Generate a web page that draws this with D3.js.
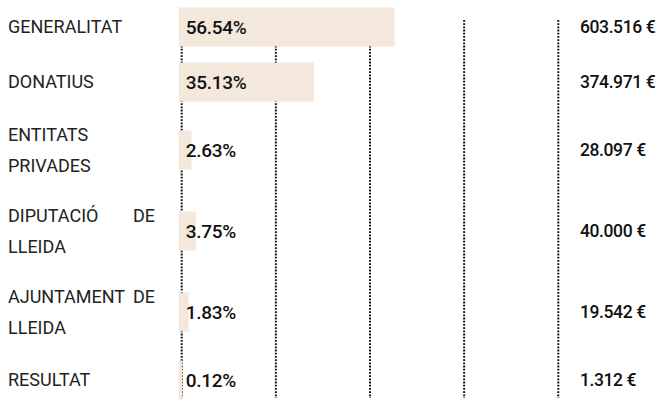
<!DOCTYPE html>
<html>
<head>
<meta charset="utf-8">
<script src="https://cdn.jsdelivr.net/npm/d3@7"></script>
<style>
  body { margin: 0; background: #fff; }
  svg text { font-family: Roboto, "Noto Sans", sans-serif; }
</style>
</head>
<body>
<svg class="Finances" width="661" height="401"></svg>
<script>
// data
var categories = ["GENERALITAT", "DONATIUS", "ENTITATS PRIVADES", "DIPUTACIÓ DE LLEIDA", "AJUNTAMENT DE LLEIDA", "RESULTAT"];
var percents = [56.54, 35.13, 2.63, 3.75, 1.83, 0.12];
var amounts = ["603.516 €", "374.971 €", "28.097 €", "40.000 €", "19.542 €", "1.312 €"];
var gridTicks = [0, 25, 50, 75, 100];

var meta = {};
meta['labelWidth'] = 147;
meta['lineHeight'] = 31;
meta['barHeight'] = 39;
meta['labelSize'] = 18;

var svg = d3.select(".Finances");

const xScale = d3.scaleLinear()
    .domain([0, 100])
    .range([181.7, 558.3]);

// grid lines first, bars go over them
svg.append('g')
    .attr('class', 'grid')
    .selectAll('line')
    .data(gridTicks)
    .enter()
    .append('line')
    .attr('x1', d => xScale(d))
    .attr('x2', d => xScale(d))
    .attr('y1', 20)
    .attr('y2', 398)
    .attr('stroke', '#111')
    .attr('stroke-width', 2)
    .attr('stroke-dasharray', '1.8,1.4');

// labels: wrap + justify inside the left column
var labelG = svg.append('g').attr('class', 'labels');
var measure = labelG.append('text').attr('font-size', meta['labelSize']);

function textWidth(s) {
    measure.text(s);
    return measure.node().getComputedTextLength();
}

function wrap(label) {
    let words = label.split(' ');
    let lines = [];
    let cur = [];
    words.forEach(w => {
        let test = cur.concat([w]).join(' ');
        if (cur.length && textWidth(test) > meta['labelWidth']) {
            lines.push(cur);
            cur = [w];
        } else {
            cur.push(w);
        }
    });
    lines.push(cur);
    return lines;
}

var rows = categories.map((c, i) => ({
    label: c,
    lines: wrap(c),
    pct: percents[i],
    amount: amounts[i]
}));

// row heights depend on how many lines the label takes
var yPos = -0.5;
rows.forEach(r => {
    let h = r.lines.length > 1 ? 81 : 55;
    r.cy = yPos + h / 2;
    yPos += h;
});

rows.forEach(r => {
    let n = r.lines.length;
    r.lines.forEach((words, li) => {
        let y = r.cy + (li - (n - 1) / 2) * meta['lineHeight'];
        let isLast = li == n - 1;
        if (!isLast && words.length > 1) {
            // justified line: spread words over the column width
            let widths = words.map(w => textWidth(w));
            let gap = (meta['labelWidth'] - d3.sum(widths)) / (words.length - 1);
            let x = 8;
            words.forEach((w, wi) => {
                labelG.append('text')
                    .attr('x', x)
                    .attr('y', y)
                    .attr('dy', '0.35em')
                    .attr('font-size', meta['labelSize'])
                    .attr('fill', '#222')
                    .text(w);
                x += widths[wi] + gap;
            });
        } else {
            labelG.append('text')
                .attr('x', 8)
                .attr('y', y)
                .attr('dy', '0.35em')
                .attr('font-size', meta['labelSize'])
                .attr('fill', '#222')
                .text(words.join(' '));
        }
    });
});
measure.remove();

// bars
svg.append('g')
    .attr('class', 'bars')
    .selectAll('rect')
    .data(rows)
    .enter()
    .append('rect')
    .attr('x', xScale(0) - 3)
    .attr('y', d => d.cy - meta['barHeight'] / 2)
    .attr('width', d => xScale(d.pct) - xScale(0) + 3)
    .attr('height', meta['barHeight'])
    .attr('fill', '#f4e8dc');

// percent values on the bars
svg.append('g')
    .selectAll('text')
    .data(rows)
    .enter()
    .append('text')
    .attr('x', xScale(0) + 4)
    .attr('y', d => d.cy)
    .attr('dy', '0.35em')
    .attr('font-size', 19)
    .attr('font-weight', 500)
    .attr('letter-spacing', '-0.3px')
    .attr('fill', '#111')
    .text(d => d.pct.toFixed(2) + '%');

// amounts column
svg.append('g')
    .selectAll('text')
    .data(rows)
    .enter()
    .append('text')
    .attr('x', 580)
    .attr('y', d => d.cy)
    .attr('dy', '0.35em')
    .attr('font-size', 17.5)
    .attr('font-weight', 500)
    .attr('letter-spacing', '-0.4px')
    .attr('fill', '#111')
    .text(d => d.amount);
</script>
</body>
</html>
